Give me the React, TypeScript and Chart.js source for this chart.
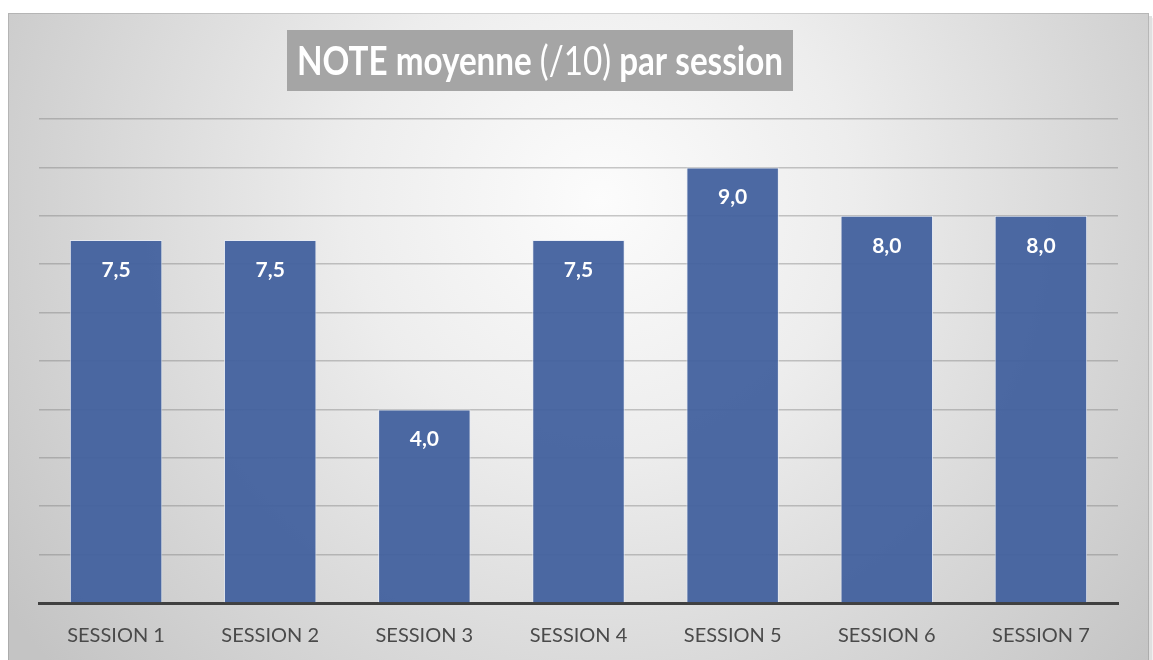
import React, { useEffect, useRef } from "react";
import { Chart, registerables } from "chart.js";

Chart.register(...registerables);

const categories = ["SESSION 1", "SESSION 2", "SESSION 3", "SESSION 4", "SESSION 5", "SESSION 6", "SESSION 7"];
const values = [7.5, 7.5, 4.0, 7.5, 9.0, 8.0, 8.0];
const titleParts = [
  { text: "NOTE moyenne ", bold: true },
  { text: "(/10)", bold: false },
  { text: " par session", bold: true },
];

const W = 1153;
const H = 660;

const backgroundPlugin = {
  id: "panelBg",
  beforeDraw(chart: any) {
    const ctx = chart.ctx as CanvasRenderingContext2D;
    ctx.save();
    ctx.fillStyle = "#ffffff";
    ctx.fillRect(0, 0, W, H);
    ctx.fillStyle = "rgba(0,0,0,0.12)";
    ctx.fillRect(1149, 16, 3, H);
    ctx.fillStyle = "rgba(0,0,0,0.06)";
    ctx.fillRect(1152, 18, 1, H);
    const g = ctx.createRadialGradient(600, 200, 0, 600, 200, 720);
    g.addColorStop(0, "#fcfcfc");
    g.addColorStop(0.35, "#ededed");
    g.addColorStop(1, "#c4c4c4");
    ctx.fillStyle = g;
    ctx.fillRect(8, 13, 1141, H - 13);
    ctx.strokeStyle = "rgba(0,0,0,0.12)";
    ctx.lineWidth = 1;
    ctx.strokeRect(8.5, 13.5, 1140, H);
    ctx.restore();
  },
};

const titlePlugin = {
  id: "boxTitle",
  afterDraw(chart: any) {
    const ctx = chart.ctx as CanvasRenderingContext2D;
    ctx.save();
    ctx.fillStyle = "#a5a5a5";
    ctx.fillRect(287, 30, 506, 61);
    const size = 40;
    const fam = "Lato, 'Open Sans', sans-serif";
    let total = 0;
    const widths: number[] = [];
    for (const p of titleParts) {
      ctx.font = `${p.bold ? "bold" : "normal"} ${size}px ${fam}`;
      const w = ctx.measureText(p.text).width;
      widths.push(w);
      total += w;
    }
    const target = 486;
    const sx = target / total;
    ctx.translate(540 - target / 2, 61);
    ctx.scale(sx, 1);
    ctx.fillStyle = "#ffffff";
    ctx.textBaseline = "middle";
    let x = 0;
    titleParts.forEach((p, i) => {
      ctx.font = `${p.bold ? "bold" : "normal"} ${size}px ${fam}`;
      ctx.fillText(p.text, x, 1);
      x += widths[i];
    });
    ctx.restore();
  },
};

const labelPlugin = {
  id: "barLabels",
  afterDatasetsDraw(chart: any) {
    const ctx = chart.ctx as CanvasRenderingContext2D;
    const meta = chart.getDatasetMeta(0);
    ctx.save();
    ctx.fillStyle = "#ffffff";
    ctx.font = "bold 21px Lato, 'Open Sans', sans-serif";
    ctx.textAlign = "center";
    ctx.textBaseline = "middle";
    meta.data.forEach((bar: any, i: number) => {
      const v = values[i];
      ctx.fillText(v.toFixed(1).replace(".", ","), bar.x, bar.y + 30);
    });
    ctx.restore();
  },
};

export default function App() {
  const ref = useRef<HTMLCanvasElement | null>(null);
  useEffect(() => {
    if (!ref.current) return;
    const chart = new Chart(ref.current, {
      type: "bar",
      data: {
        labels: categories,
        datasets: [
          {
            data: values,
            backgroundColor: "rgba(66,97,158,0.95)",
            borderColor: "rgba(230,235,245,0.8)",
            borderWidth: { top: 1, left: 1, right: 1, bottom: 0 },
            borderSkipped: "bottom",
            categoryPercentage: 1,
            barPercentage: 0.6,
          },
        ],
      },
      options: {
        responsive: false,
        animation: false,
        devicePixelRatio: 1,
        layout: { padding: { left: 39, right: 35, top: 119, bottom: 0 } },
        plugins: {
          legend: { display: false },
          title: { display: false },
          tooltip: { enabled: false },
        },
        scales: {
          x: {
            grid: { display: false },
            border: { display: true, color: "#404040", width: 3 },
            ticks: {
              color: "#4a4a4a",
              font: { family: "Lato, 'Open Sans', sans-serif", size: 20 },
              padding: 13,
              maxRotation: 0,
            },
            afterFit(scale: any) {
              scale.height = 57;
            },
          },
          y: {
            min: 0,
            max: 10,
            ticks: { display: false, stepSize: 1 },
            grid: { color: "rgba(120,120,120,0.4)", lineWidth: 1.5, drawTicks: false },
            border: { display: false },
            afterFit(scale: any) {
              scale.width = 0;
            },
          },
        },
      },
      plugins: [backgroundPlugin, titlePlugin, labelPlugin],
    });
    return () => chart.destroy();
  }, []);
  return (
    <div style={{ position: "fixed", left: 0, top: 0, width: W, height: H }}>
      <canvas ref={ref} width={W} height={H} style={{ width: W, height: H, display: "block" }} />
    </div>
  );
}
